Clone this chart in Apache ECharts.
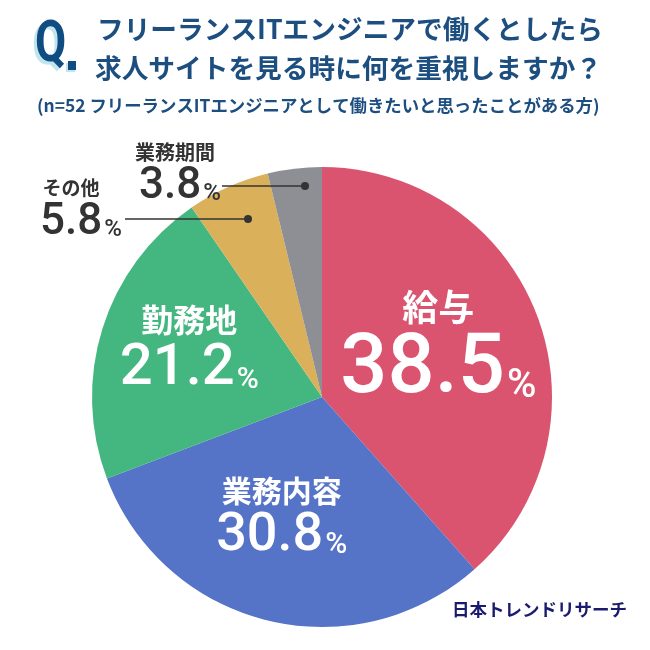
<!DOCTYPE html>
<html><head><meta charset="utf-8">
<script src="https://cdn.jsdelivr.net/npm/echarts@6/dist/echarts.min.js"></script>
<style>html,body{margin:0;padding:0;background:#fff}#c{width:650px;height:650px}</style>
</head><body><div id="c"></div>
<script>
const categories = ['給与', '業務内容', '勤務地', 'その他', '業務期間'];
const values = [38.5, 30.8, 21.2, 5.8, 3.8];
const colors = ['#DA546F', '#5573C7', '#44B67F', '#DAB05A', '#8E8F95'];
const titleLines = ['フリーランスITエンジニアで働くとしたら', '求人サイトを見る時に何を重視しますか？'];
const subtitle = '(n=52 フリーランスITエンジニアとして働きたいと思ったことがある方)';
const source = '日本トレンドリサーチ';

const JP = '"Noto Sans CJK JP", "Noto Sans", sans-serif';
const NUM = 'Roboto, "Noto Sans", sans-serif';

function richFor(nameSize, numSize, pctSize, color, gap, namePad) {
  return {
    n: {fontFamily: JP, fontWeight: 'bold', fontSize: nameSize, color: color, lineHeight: nameSize + gap, align: 'center', padding: namePad || 0},
    v: {fontFamily: NUM, fontWeight: 500, fontSize: numSize, color: color, lineHeight: numSize * 0.95},
    p: {fontFamily: NUM, fontWeight: 500, fontSize: pctSize, color: color, lineHeight: numSize * 0.95, verticalAlign: 'bottom', padding: [0, 0, numSize * 0.04, 2]}
  };
}
const labelCfg = [
  {pos: 'inside', rich: richFor(36, 83, 40, '#fff', 12), dx: 6, dy: -8},
  {pos: 'inside', rich: richFor(30, 54, 30, '#fff', 10), dx: -12, dy: 5},
  {pos: 'inside', rich: richFor(32, 58, 30, '#fff', 12), dx: -20, dy: -14},
  {pos: 'outside', rich: richFor(19, 44, 24, '#333', 8, [0, 20, 0, 0]), x: 81, y: 209},
  {pos: 'outside', rich: richFor(20, 44, 24, '#333', 8, [0, 10, 0, 0]), x: 180, y: 173}
];

const data = categories.map((c, i) => ({
  name: c,
  value: values[i],
  itemStyle: {color: colors[i]},
  label: {
    show: true,
    position: labelCfg[i].pos,
    formatter: '{n|' + c + '}\n{v|' + values[i] + '}{p|%}',
    rich: labelCfg[i].rich,
    align: 'center'
  },
  labelLine: {show: false}
}));

const chart = echarts.init(document.getElementById('c'), null, {renderer: 'canvas'});
chart.setOption({
  animation: false,
  backgroundColor: '#fff',
  graphic: [
    {type: 'text', x: 32, y: 20, scaleX: 0.78, z: 9, style: {text: 'Q', fontFamily: NUM, fontWeight: 'bold', fontSize: 58, fill: '#BFE6EE'}},
    {type: 'text', x: 35, y: 17, scaleX: 0.78, z: 10, style: {text: 'Q', fontFamily: NUM, fontWeight: 'bold', fontSize: 58, fill: '#0F4C81'}},
    {type: 'rect', shape: {x: 66, y: 63, width: 9, height: 9}, style: {fill: '#BFE6EE'}, z: 9},
    {type: 'rect', shape: {x: 68, y: 61, width: 8, height: 9}, style: {fill: '#0F4C81'}, z: 10},
    {type: 'text', left: 97, top: 16, style: {text: titleLines[0], fontFamily: JP, fontWeight: 'bold', fontSize: 26.7, fill: '#1D4E80'}},
    {type: 'text', left: 95, top: 55, style: {text: titleLines[1], fontFamily: JP, fontWeight: 'bold', fontSize: 26.7, fill: '#1D4E80'}},
    {type: 'text', left: 37, top: 97, style: {text: subtitle, fontFamily: JP, fontWeight: 'bold', fontSize: 17.4, fill: '#1D4E80'}},
    {type: 'text', left: 452, top: 601, style: {text: source, fontFamily: JP, fontWeight: 'bold', fontSize: 17.5, fill: '#1A1A6E'}},
    {type: 'polyline', shape: {points: [[125, 219], [248, 219]]}, style: {stroke: '#333', lineWidth: 1.5}, z: 20},
    {type: 'circle', shape: {cx: 248, cy: 219, r: 4}, style: {fill: '#333'}, z: 20},
    {type: 'polyline', shape: {points: [[222, 186], [305, 186]]}, style: {stroke: '#333', lineWidth: 1.5}, z: 20},
    {type: 'circle', shape: {cx: 305, cy: 186, r: 4}, style: {fill: '#333'}, z: 20}
  ],
  series: [{
    type: 'pie',
    center: [322, 397],
    radius: [0, 230],
    startAngle: 90,
    clockwise: true,
    silent: true,
    itemStyle: {borderWidth: 0},
    data: data,
    labelLayout: function (p) {
      const c = labelCfg[p.dataIndex];
      if (c.pos === 'inside') return {dx: c.dx, dy: c.dy};
      return {x: c.x, y: c.y, align: 'center', verticalAlign: 'middle'};
    }
  }]
});
</script></body></html>
